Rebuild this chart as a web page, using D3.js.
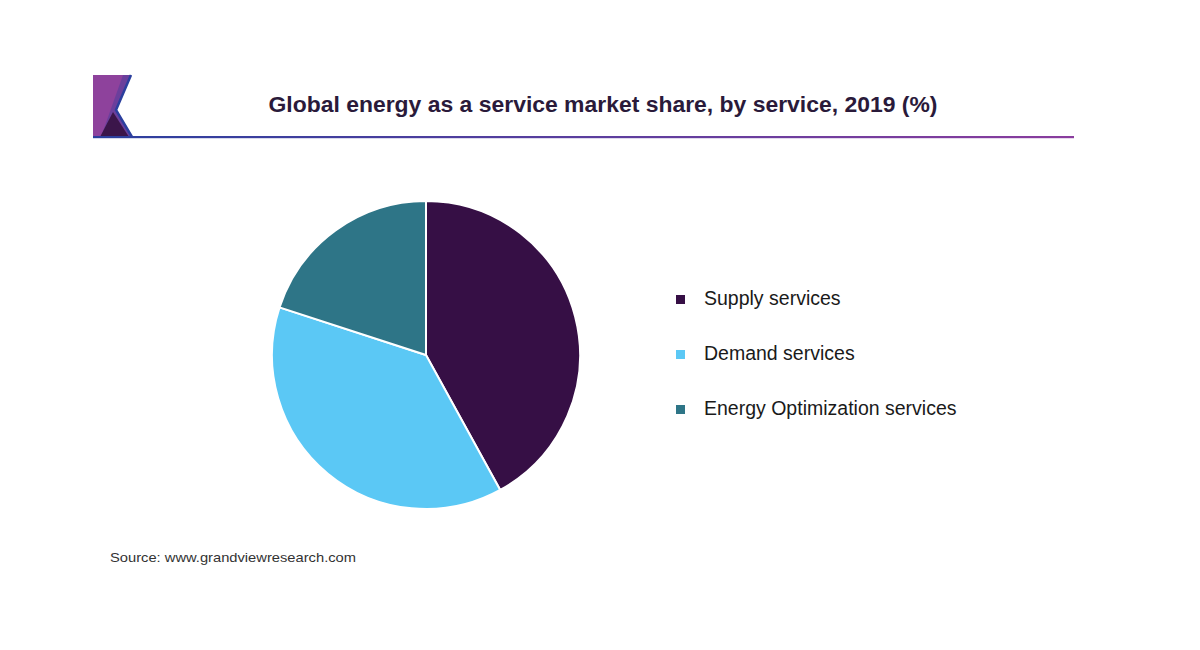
<!DOCTYPE html>
<html><head><meta charset="utf-8">
<script src="https://cdn.jsdelivr.net/npm/d3@7"></script>
<style>body{margin:0;background:#fff;}svg{display:block;}</style>
</head><body>
<svg id="c" width="1200" height="650"></svg>
<script>
const categories = ["Supply services", "Demand services", "Energy Optimization services"];
const values = [42, 38, 20];
const colors = ["#360f45", "#5bc8f5", "#2e7587"];
const titleText = "Global energy as a service market share, by service, 2019 (%)";
const sourceText = "Source: www.grandviewresearch.com";

const svg = d3.select("#c");
const defs = svg.append("defs");
const lg = defs.append("linearGradient").attr("id","ln").attr("x1","0%").attr("x2","100%");
lg.append("stop").attr("offset","0%").attr("stop-color","#2b3f9e");
lg.append("stop").attr("offset","100%").attr("stop-color","#8a3d9e");

// logo
svg.append("polygon").attr("points","93,75 131,75 116,110 131,137 93,137").attr("fill","#6b3f9c");
svg.append("polygon").attr("points","93,75 123,75 101,137 93,137").attr("fill","#8e429c");
svg.append("polygon").attr("points","100,137 113,112 129,137").attr("fill","#3b154a");
svg.append("polyline").attr("points","131,75 116,110 132,137").attr("fill","none").attr("stroke","#2b3f9e").attr("stroke-width",2.5);
svg.append("rect").attr("x",93).attr("y",136).attr("width",981).attr("height",2.2).attr("fill","url(#ln)");

svg.append("text").attr("x",603).attr("y",112).attr("text-anchor","middle")
  .attr("font-family","Liberation Sans, Arial, sans-serif").attr("font-weight","bold")
  .attr("font-size",22).attr("fill","#2a1a3a").attr("textLength",669).attr("lengthAdjust","spacingAndGlyphs")
  .text(titleText);

const pie = d3.pie().sort(null).value(d=>d)(values);
const arc = d3.arc().innerRadius(0).outerRadius(154);
const g = svg.append("g").attr("transform","translate(426,355)");
g.selectAll("path").data(pie).join("path").attr("d",arc)
  .attr("fill",(d,i)=>colors[i]).attr("stroke","#fff").attr("stroke-width",2);

const y = d3.scalePoint().domain(categories).range([299,409]);
const leg = svg.append("g");
categories.forEach((c,i)=>{
  leg.append("rect").attr("x",676).attr("y",y(c)-4).attr("width",9).attr("height",9).attr("fill",colors[i]);
  leg.append("text").attr("x",704).attr("y",y(c)+6).attr("font-family","Liberation Sans, Arial, sans-serif")
    .attr("font-size",19.5).attr("fill","#1a1a1a").text(c);
});

svg.append("text").attr("x",110).attr("y",562).attr("font-family","Liberation Sans, Arial, sans-serif")
  .attr("font-size",13).attr("fill","#333").attr("textLength",246).attr("lengthAdjust","spacingAndGlyphs").text(sourceText);
</script>
</body></html>
